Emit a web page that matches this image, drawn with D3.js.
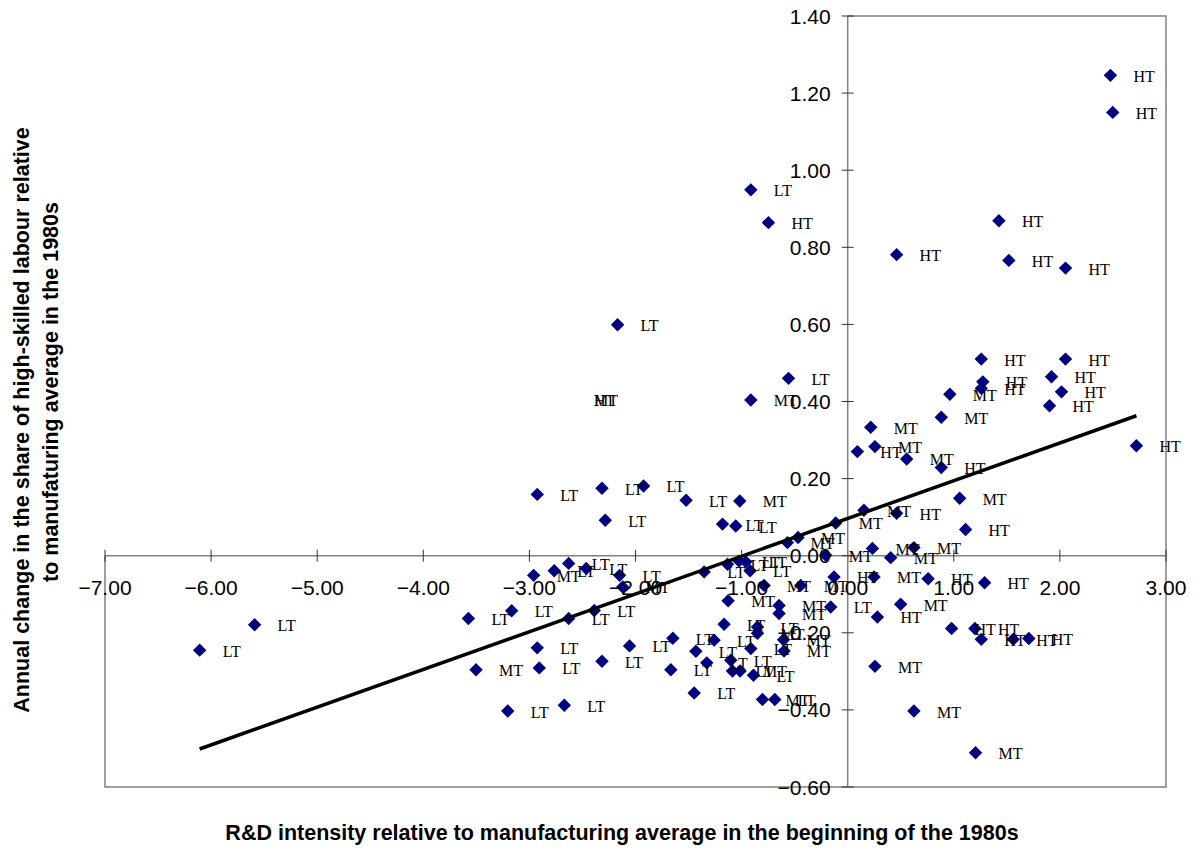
<!DOCTYPE html>
<html>
<head>
<meta charset="utf-8">
<script src="https://cdn.jsdelivr.net/npm/d3@7"></script>
<style>
  body { margin: 0; background: #fff; }
  svg { display: block; }
</style>
</head>
<body>
<svg id="grafico" width="1197" height="850"></svg>
<script>
// dados: intensidade de P&D (x), variacao anual (y) e classe
const rdIntensity = [
  -6.108, -5.590, -3.575, -3.204, -3.167, -2.926, -2.926, -2.907, -2.766, -2.671,
  -2.630, -2.630, -2.464, -2.389, -2.316, -2.316, -2.285, -2.150, -2.056, -1.924,
  -1.667, -1.648, -1.523, -1.447, -1.431, -1.353, -1.328, -1.259, -2.169, -1.180,
  -1.165, -1.133, -1.102, -1.086, -1.055, -1.024, -0.960, -0.920, -0.913, -0.913,
  -0.888, -0.850, -0.558, -0.160, -0.687,
  -3.503, -2.960, -2.121, -1.127, -1.017, -1.014, -0.913, -0.850, -0.803, -0.788,
  -0.647, -0.647, -0.605, -0.600, -0.568, -0.468, -0.443, -0.207, -0.113, 0.153,
  0.217, 0.233, 0.248, 0.257, 0.257, 0.405, 0.499, 0.556, 0.624, 0.624,
  0.882, 0.963, 1.055, 1.205,
  -0.747, -0.129, 0.091, 0.280, 0.461, 0.461, 0.758, 0.882, 0.979, 1.111,
  1.199, 1.259, 1.259, 1.274, 1.259, 1.290, 1.425, 1.519, 1.560, 1.707,
  1.902, 1.921, 2.015, 2.053, 2.053, 2.476, 2.498, 2.721
];
const skillChange = [
  -0.245, -0.179, -0.163, -0.403, -0.143, 0.159, -0.239, -0.291, -0.039, -0.388,
  -0.020, -0.163, -0.033, -0.142, 0.175, -0.274, 0.092, -0.051, -0.234, 0.181,
  -0.296, -0.214, 0.144, -0.356, -0.248, -0.042, -0.278, -0.219, 0.599, 0.082,
  -0.178, -0.022, -0.271, -0.299, 0.077, -0.014, -0.016, -0.039, 0.949, -0.241,
  -0.310, -0.185, 0.460, -0.133, -0.373,
  -0.296, -0.051, -0.081, -0.117, 0.142, -0.299, 0.404, -0.201, -0.373, -0.077,
  -0.129, -0.150, -0.218, -0.247, 0.034, 0.047, -0.077, 0.001, 0.085, 0.118,
  0.333, 0.019, -0.055, 0.283, -0.287, -0.005, -0.126, 0.251, 0.021, -0.403,
  0.359, 0.419, 0.149, -0.511,
  0.864, -0.055, 0.270, -0.159, 0.781, 0.110, -0.060, 0.229, -0.189, 0.068,
  -0.189, 0.510, -0.217, 0.451, 0.434, -0.070, 0.869, 0.766, -0.217, -0.215,
  0.389, 0.464, 0.425, 0.746, 0.510, 1.246, 1.150, 0.285
];
const techClass = [].concat(
  Array(45).fill("LT"),
  Array(34).fill("MT"),
  Array(28).fill("HT")
);

// rotulos que aparecem sem marcador no original
const orphanX = [-2.608, -2.608];
const orphanY = [0.406, 0.406];
const orphanText = ["MT", "HT"];

const trendSlope = 0.0979;
const trendIntercept = 0.0966;

const xTicks = [-7, -6, -5, -4, -3, -2, -1, 0, 1, 2, 3];
const yTicks = [-0.6, -0.4, -0.2, 0, 0.2, 0.4, 0.6, 0.8, 1.0, 1.2, 1.4];

const xTitle = "R&D intensity relative to manufacturing average in the beginning of the 1980s";
const yTitle1 = "Annual change in the share of high-skilled labour relative";
const yTitle2 = "to manufaturing average in the 1980s";

const svg = d3.select("#grafico");
const box = {left: 105, right: 1166, top: 16, bottom: 787};

const x = d3.scaleLinear().domain([-7, 3]).range([box.left, box.right]);
const y = d3.scaleLinear().domain([-0.6, 1.4]).range([box.bottom, box.top]);

const axisColor = "#808080";
const fmt = d3.format(".2f");

// moldura da area de plotagem (o lado esquerdo so aparece abaixo do eixo X)
const frame = svg.append("g")
  .attr("fill", "none").attr("stroke", axisColor).attr("stroke-width", 1.5);
frame.append("path")
  .attr("d", "M" + x(0) + "," + box.top + "H" + box.right + "V" + box.bottom +
             "H" + box.left + "V" + y(0));

// eixo X (cruza em y = 0)
const gx = svg.append("g");
gx.append("line")
  .attr("x1", box.left).attr("x2", box.right)
  .attr("y1", y(0)).attr("y2", y(0))
  .attr("stroke", axisColor).attr("stroke-width", 1.5);
gx.selectAll(".tk").data(xTicks).enter().append("line")
  .attr("x1", d => x(d)).attr("x2", d => x(d))
  .attr("y1", y(0) - 6).attr("y2", y(0) + 6)
  .attr("stroke", "#333").attr("stroke-width", 1);

// eixo Y (cruza em x = 0)
const gy = svg.append("g");
gy.append("line")
  .attr("x1", x(0)).attr("x2", x(0))
  .attr("y1", box.top).attr("y2", box.bottom)
  .attr("stroke", axisColor).attr("stroke-width", 1.5);
gy.selectAll(".tk").data(yTicks).enter().append("line")
  .attr("x1", x(0) - 6).attr("x2", x(0) + 6)
  .attr("y1", d => y(d)).attr("y2", d => y(d))
  .attr("stroke", "#333").attr("stroke-width", 1);

// -- pontos ---------------------------------------------------
const pts = rdIntensity.map((v, i) => ({x: v, y: skillChange[i], c: techClass[i]}));
const diamond = d3.symbol().type(d3.symbolSquare).size(90);

svg.append("g").selectAll("path")
  .data(pts).enter().append("path")
  .attr("d", diamond)
  .attr("transform", d => "translate(" + x(d.x) + "," + y(d.y) + ") rotate(45)")
  .attr("fill", "#000080");

// -- linha de tendencia --------------------------------------
const xMin = d3.min(rdIntensity), xMax = d3.max(rdIntensity);
svg.append("line")
  .attr("x1", x(xMin)).attr("y1", y(trendIntercept + trendSlope * xMin))
  .attr("x2", x(xMax)).attr("y2", y(trendIntercept + trendSlope * xMax))
  .attr("stroke", "#000").attr("stroke-width", 3.5);

// -- rotulos dos pontos --------------------------------------
const lbl = svg.append("g")
  .style("font-family", "'Liberation Serif', 'Times New Roman', serif")
  .style("font-size", "16px")
  .attr("fill", "#000");
lbl.selectAll(".pl").data(pts).enter().append("text")
  .attr("x", d => x(d.x) + 23)
  .attr("y", d => y(d.y) + 6.5)
  .text(d => d.c);
lbl.selectAll(".ol").data(orphanText).enter().append("text")
  .attr("x", (d, i) => x(orphanX[i]) + 23)
  .attr("y", (d, i) => y(orphanY[i]) + 6.5)
  .text(d => d);

// -- textos dos eixos ----------------------------------------
const tickFont = "'Liberation Sans', Arial, sans-serif";
svg.append("g").selectAll("text")
  .data(xTicks).enter().append("text")
  .attr("x", d => x(d)).attr("y", y(0) + 39)
  .attr("text-anchor", "middle")
  .style("font-family", tickFont).style("font-size", "21px")
  .text(d => fmt(d));

svg.append("g").selectAll("text")
  .data(yTicks).enter().append("text")
  .attr("x", x(0) - 17).attr("y", d => y(d) + 7.5)
  .attr("text-anchor", "end")
  .style("font-family", tickFont).style("font-size", "21px")
  .text(d => fmt(d));

// titulos
svg.append("text")
  .attr("x", 622).attr("y", 840)
  .attr("text-anchor", "middle")
  .style("font-family", tickFont).style("font-size", "21.5px").style("font-weight", "bold")
  .text(xTitle);

const cy = 420;
svg.append("text")
  .attr("transform", "translate(29," + cy + ") rotate(-90)")
  .attr("text-anchor", "middle")
  .style("font-family", tickFont).style("font-size", "21.5px").style("font-weight", "bold")
  .text(yTitle1);
svg.append("text")
  .attr("transform", "translate(58," + (cy - 28) + ") rotate(-90)")
  .attr("text-anchor", "middle")
  .style("font-family", tickFont).style("font-size", "21.5px").style("font-weight", "bold")
  .text(yTitle2);
</script>
</body>
</html>
